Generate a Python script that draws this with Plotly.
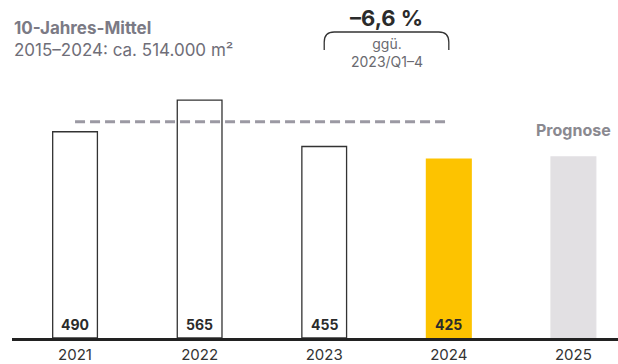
import plotly.graph_objects as go

years = ["2021", "2022", "2023", "2024", "2025"]
values = [490, 565, 455, 425, 430]
value_labels = ["490", "565", "455", "425", ""]
fills = ["#ffffff", "#ffffff", "#ffffff", "#fdc300", "#e2e0e3"]
outlines = ["#333333", "#333333", "#333333", "#fdc300", "#e2e0e3"]
mean_value = 514
change_text = "–6,6 %"

W, H = 618, 364
ML, MR, MT, MB = 12, 0, 0, 26
pw, ph = W - ML - MR, H - MT - MB
ymax = 803
xr = [-0.506, 4.358]


def py(px_from_top):
    """pixel y (from top of figure) -> data y"""
    return (ph - px_from_top) * ymax / ph


fig = go.Figure()
fig.add_bar(
    x=list(range(len(years))), y=values, width=0.359,
    marker=dict(color=fills, line=dict(color=outlines, width=1.3)),
    hoverinfo="skip",
)

# value labels at the bar bases
for i, (v, t) in enumerate(zip(values, value_labels)):
    if t:
        fig.add_annotation(x=i, y=0, text=f"<b>{t}</b>", showarrow=False,
                           yanchor="middle", yshift=14,
                           font=dict(family="Inter", size=14, color="#2b2b2b"))

# 10-year mean dashed line
fig.add_shape(type="line", x0=0, x1=3, y0=mean_value, y1=mean_value,
              xref="x", yref="y",
              line=dict(color="#9b99a3", width=3, dash="10px,5px"))

# bracket for change
bl, br, bt, bb, r = 2.0, 3.0, py(32), py(50), 10
rx = r * (xr[1] - xr[0]) / pw
ry = r * ymax / ph
path = (f"M {bl},{bb} L {bl},{bt - ry} Q {bl},{bt} {bl + rx},{bt} "
        f"L {br - rx},{bt} Q {br},{bt} {br},{bt - ry} L {br},{bb}")
fig.add_shape(type="path", path=path, xref="x", yref="y",
              line=dict(color="#333333", width=1.3))

fig.add_annotation(x=2.5, y=py(18), text=f"<b>{change_text}</b>",
                   showarrow=False, xref="x", yref="y",
                   font=dict(family="Inter", size=22, color="#2b2b2b"))
fig.add_annotation(x=2.5, y=py(52), text="ggü.<br>2023/Q1–4",
                   showarrow=False, xref="x", yref="y",
                   font=dict(family="Inter", size=14, color="#6a6a70"))

fig.add_annotation(x=4, y=py(130), text="<b>Prognose</b>",
                   showarrow=False, xref="x", yref="y",
                   font=dict(family="Inter", size=16, color="#8a8990"))

# title block (two lines in one text)
fig.add_annotation(
    x=-0.5 / pw, y=py(39), xref="paper", yref="y",
    xanchor="left", yanchor="middle", align="left", showarrow=False,
    text=("<b><span style='color:#7b7a85'>10-Jahres-Mittel</span></b><br>"
          "<span style='color:#6f6e78'>2015–2024: ca. 514.000 m²</span>"),
    font=dict(family="Inter", size=17, color="#6f6e78"))

fig.update_layout(
    width=W, height=H, margin=dict(l=ML, r=MR, t=MT, b=MB, autoexpand=False),
    paper_bgcolor="white", plot_bgcolor="white", showlegend=False,
    xaxis=dict(range=xr, tickmode="array", tickvals=list(range(len(years))),
               ticktext=years, showgrid=False, zeroline=False,
               showline=True, linecolor="#222222", linewidth=2.5,
               ticks="outside", ticklen=1, tickcolor="rgba(0,0,0,0)",
               automargin=False,
               tickfont=dict(family="Inter", size=15, color="#333333")),
    yaxis=dict(range=[0, ymax], visible=False, showgrid=False, zeroline=False,
               automargin=False),
)

fig.write_html("out.html")
